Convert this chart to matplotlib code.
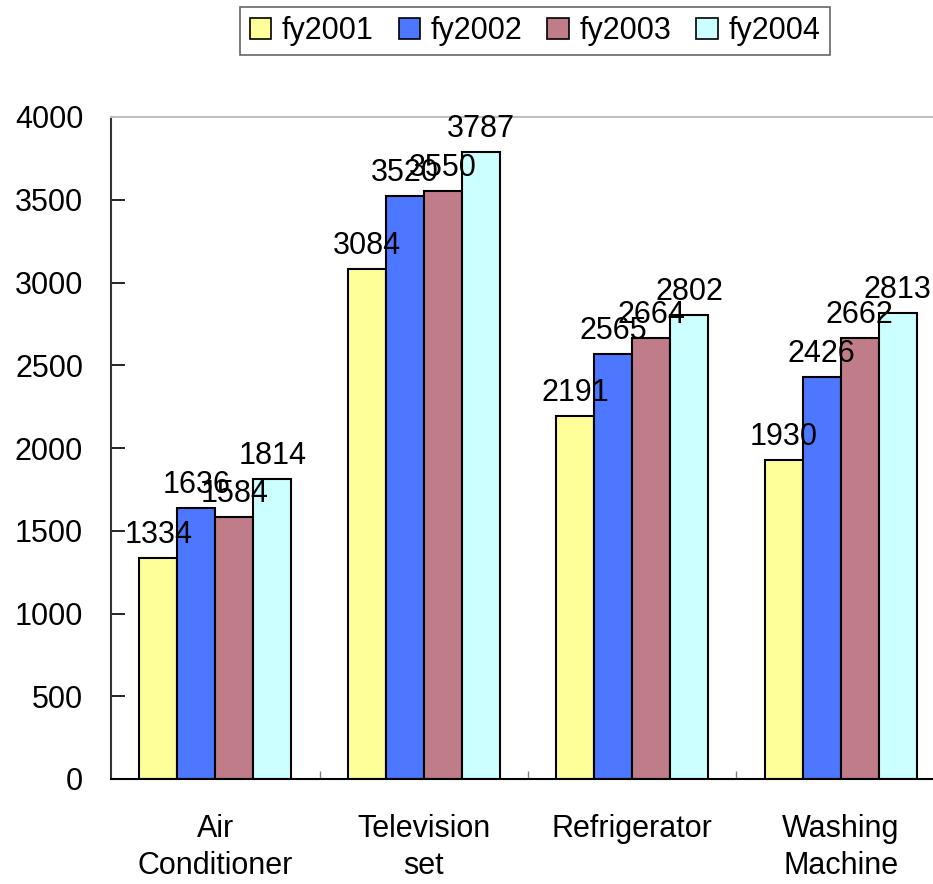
import matplotlib
matplotlib.use("Agg")
import matplotlib.pyplot as plt
import numpy as np

categories = ["Air\nConditioner", "Television\nset", "Refrigerator", "Washing\nMachine"]
series_names = ["fy2001", "fy2002", "fy2003", "fy2004"]
fy2001 = [1334, 3084, 2191, 1930]
fy2002 = [1636, 3520, 2565, 2426]
fy2003 = [1584, 3550, 2664, 2662]
fy2004 = [1814, 3787, 2802, 2813]
yticks = [0, 500, 1000, 1500, 2000, 2500, 3000, 3500, 4000]

colors = ["#FFFF99", "#4D77FF", "#C07C89", "#CCFFFF"]

plt.rcParams['font.family'] = ['Liberation Sans', 'DejaVu Sans']
FS = 22

W, H = 933, 884
fig = plt.figure(figsize=(W / 100, H / 100), dpi=100)
left, bottom, top = 111, 779, 117
span = 208.5 * 4
ax = fig.add_axes([left / W, (H - bottom) / H, span / W, (bottom - top) / H])

x = np.arange(len(categories))
width = 0.182
data = [fy2001, fy2002, fy2003, fy2004]
for i, (name, vals) in enumerate(zip(series_names, data)):
    pos = x + (i - 1.5) * width
    ax.bar(pos, vals, width, color=colors[i], edgecolor="black", linewidth=1.5, label=name)
    for p, v in zip(pos, vals):
        ax.annotate(str(v), xy=(p, v), xytext=(0, 15), textcoords="offset pixels",
                    ha="center", va="baseline", fontsize=FS)

ax.set_xlim(-0.5, 3.5)
ax.set_ylim(0, 4000)
ax.set_yticks(yticks)
ax.set_yticklabels([str(t) for t in yticks], fontsize=FS)
ax.tick_params(axis="y", direction="in", length=10, width=1.2, pad=20)

ax.set_xticks([0.5, 1.5, 2.5])
ax.set_xticklabels([])
ax.tick_params(axis="x", direction="in", length=6, width=1, color="#808080")
for xi, c in zip(x, categories):
    ax.annotate(c, xy=(xi, 0), xytext=(0, -35), textcoords="offset pixels",
                ha="center", va="top", fontsize=FS, linespacing=1.3, annotation_clip=False)

ax.spines["top"].set_color("#C0C0C0")
ax.spines["top"].set_linewidth(1.5)
ax.spines["right"].set_visible(False)
ax.spines["left"].set_color("#333333")
ax.spines["left"].set_linewidth(1.5)
ax.spines["bottom"].set_color("black")
ax.spines["bottom"].set_linewidth(1.5)

leg = fig.legend(loc="center", bbox_to_anchor=(535 / W, 1 - 31 / H), ncol=4, fontsize=FS,
                 frameon=True, fancybox=False, edgecolor="#404040", handlelength=0.69,
                 handleheight=0.69, handletextpad=0.36, columnspacing=0.82, borderpad=0.3,
                 borderaxespad=0.0)
leg._legend_box.pad = leg._legend_box.pad
leg.get_frame().set_linewidth(1.2)
for h in leg.legend_handles:
    h.set_linewidth(1.2)

fig.savefig("out.png", dpi=100)
